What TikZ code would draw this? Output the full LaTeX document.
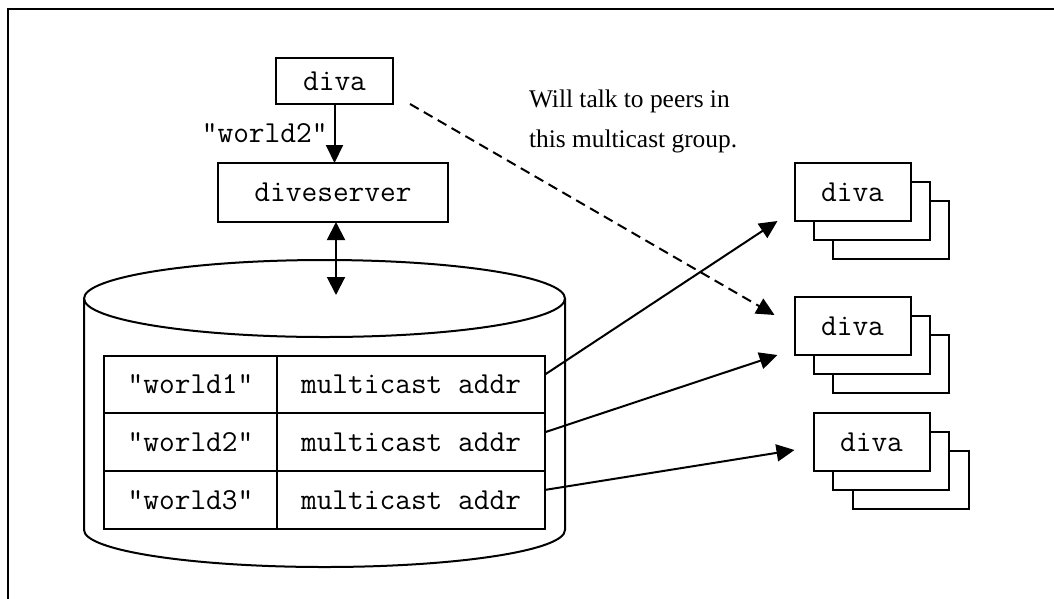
\documentclass[tikz,border=0pt]{standalone}
\usepackage{fontspec}
\setmainfont{Liberation Serif}
\usetikzlibrary{arrows.meta}

\begin{document}
\begin{tikzpicture}[x=1pt, y=-1pt, line width=2pt,
  box/.style={draw, fill=white, inner sep=0, outer sep=0,
    font=\ttfamily\fontsize{30.5}{36}\selectfont},
  stack/.style={box, minimum width=116pt, minimum height=58pt},
  cell/.style={box, minimum height=57.7pt},
  link/.style={-{Triangle[length=18pt,width=17pt]}},
  twoway/.style={{Triangle[length=18pt,width=18pt]}-{Triangle[length=18pt,width=18pt]}}]
  \useasboundingbox (0,0) rectangle (1054,598);
  \draw (8,9) rectangle (1090,640);

  \node [box, minimum width=117pt, minimum height=46pt] (diva) at (334.5,81) {diva};
  \node [box, minimum width=230pt, minimum height=59pt] (server) at (333,192.5) {diveserver};
  \draw [link] (diva.south) -- node [left, inner sep=6pt, font=\ttfamily\fontsize{30.5}{36}\selectfont] {"world2"} (diva.south |- server.north);

  % the database
  \draw (324.5,298.5) ellipse [x radius=240.5, y radius=38.5];
  \draw (84,298.5) -- (84,530) arc [start angle=180, end angle=0, x radius=240.5, y radius=37] -- (565,298.5);
  \coordinate (dbtop) at (336,295);
  \draw [twoway] ([xshift=3pt]server.south) -- (dbtop);

  \node [cell, minimum width=173pt] (w1) at (190.5,384.5) {"world1"};
  \node [cell, minimum width=268pt] (a1) at (411,384.5) {multicast addr};
  \node [cell, minimum width=173pt] (w2) at (190.5,442.2) {"world2"};
  \node [cell, minimum width=268pt] (a2) at (411,442.2) {multicast addr};
  \node [cell, minimum width=173pt] (w3) at (190.5,499.9) {"world3"};
  \node [cell, minimum width=268pt] (a3) at (411,499.9) {multicast addr};

  % peers
  \node [stack] (s1c) at (891,230) {};
  \node [stack] (s1b) at (871.5,211) {};
  \node [stack] (s1) at (852.5,192) {diva};
  \node [stack] (s2c) at (891,364) {};
  \node [stack] (s2b) at (871.5,345) {};
  \node [stack] (s2) at (852.5,326) {diva};
  \node [stack] (s3c) at (910.5,480) {};
  \node [stack] (s3b) at (890.5,461) {};
  \node [stack] (s3) at (871.5,442) {diva};

  \draw [link] ([yshift=10pt]a1.east) -- ([xshift=-17pt]s1.south west);
  \draw [link] ([yshift=10pt]a2.east) -- ([xshift=-17pt]s2.south west);
  \draw [link] ([yshift=10pt]a3.east) -- ([xshift=-19pt,yshift=-8pt]s3.west);
  \draw [link, dash pattern=on 10pt off 6pt] ([xshift=17pt]diva.south east) -- ([xshift=-20pt,yshift=11pt]s2.west);

  \node [anchor=west, align=left, inner sep=0, font=\fontsize{25.4}{40}\selectfont] (note) at (528,121) {Will talk to peers in\\this multicast group.};
\end{tikzpicture}
\end{document}
